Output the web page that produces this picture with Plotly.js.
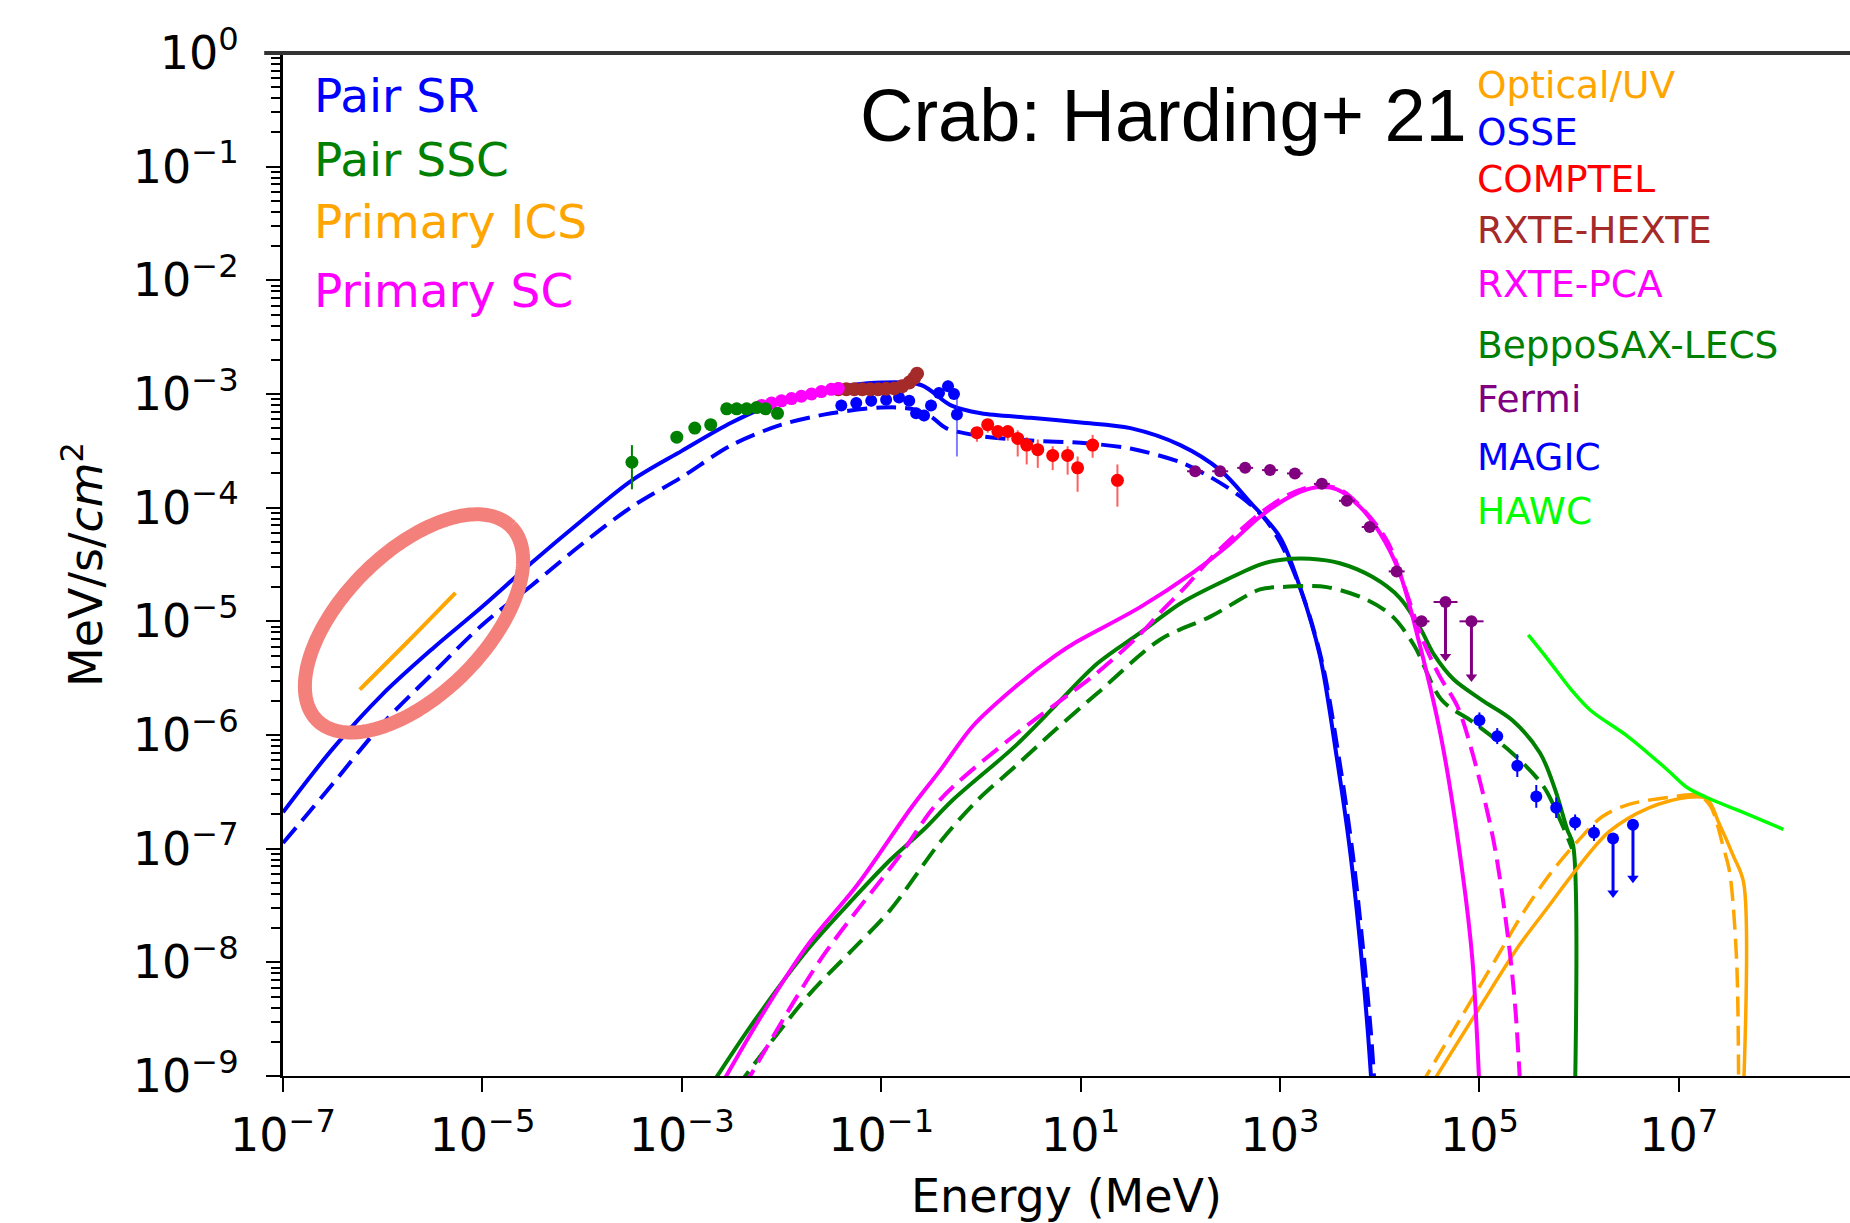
<!DOCTYPE html>
<html>
<head>
<meta charset="utf-8">
<script src="https://cdn.plot.ly/plotly-3.0.1.min.js"></script>
<style>
  html, body { margin: 0; padding: 0; background: #ffffff; }
  #chart { width: 1850px; height: 1223px; }
</style>
</head>
<body>
<div id="chart"></div>
<script>
// Crab pulsar spectral energy distribution: energy in MeV, flux in MeV/s/cm^2.

// ---- Model curves ----
// Pair synchro-radiation (solid and dashed)
const pairSrSolidE = [1e-7, 3.16e-7, 1e-6, 3.16e-6, 1e-5, 3.16e-5, 1e-4, 3.16e-4, 1e-3, 3.16e-3, 1e-2, 3.16e-2, 0.1, 0.251, 0.501, 1, 3.16, 10, 31.6, 100, 251, 501, 1000, 1585, 2512, 3715, 5012, 6310, 7586, 8318];
const pairSrSolidF = [2.09e-7, 7.59e-7, 2.29e-6, 5.75e-6, 1.35e-5, 3.31e-5, 7.76e-5, 1.74e-4, 3.16e-4, 5.62e-4, 8.71e-4, 1.12e-3, 1.26e-3, 1.20e-3, 7.94e-4, 6.76e-4, 6.17e-4, 5.62e-4, 5.01e-4, 3.55e-4, 2.14e-4, 1.12e-4, 5.50e-5, 2.00e-5, 5.01e-6, 6.31e-7, 1.0e-7, 1.58e-8, 2.51e-9, 7.94e-10];
const pairSrDashedE = [1e-7, 1.78e-7, 3.16e-7, 1e-6, 3.16e-6, 1e-5, 3.16e-5, 1e-4, 3.16e-4, 1e-3, 3.16e-3, 1e-2, 3.16e-2, 0.1, 0.2, 0.316, 0.447, 1, 3.16, 10, 31.6, 100, 200, 398, 676, 1000, 1660, 2630, 3980, 5370, 6760, 8130, 8910];
const pairSrDashedF = [1.12e-7, 2.04e-7, 3.72e-7, 1.26e-6, 3.47e-6, 9.33e-6, 2.09e-5, 4.79e-5, 1.02e-4, 1.86e-4, 3.55e-4, 5.37e-4, 6.76e-4, 7.59e-4, 7.41e-4, 6.31e-4, 5.01e-4, 4.27e-4, 3.89e-4, 3.72e-4, 3.31e-4, 2.51e-4, 1.86e-4, 1.26e-4, 8.32e-5, 5.01e-5, 1.78e-5, 4.47e-6, 5.62e-7, 8.91e-8, 1.41e-8, 2.51e-9, 7.94e-10];

// Pair synchro-self-Compton
const pairSscSolidE = [1.91e-3, 5.01e-3, 1.82e-2, 5.01e-2, 0.123, 0.269, 0.525, 2.19, 5.62, 14.8, 39.8, 102, 295, 631, 1000, 2000, 3980, 8510, 1.58e4, 2.51e4, 3.55e4, 5.50e4, 1.05e5, 2.14e5, 4.07e5, 5.75e5, 7.59e5, 8.71e5, 9.12e5];
const pairSscSolidF = [7.94e-10, 2.82e-9, 1.29e-8, 3.47e-8, 7.94e-8, 1.48e-7, 2.69e-7, 7.94e-7, 1.82e-6, 4.27e-6, 7.94e-6, 1.45e-5, 2.34e-5, 3.16e-5, 3.47e-5, 3.55e-5, 3.24e-5, 2.45e-5, 1.62e-5, 8.91e-6, 5.01e-6, 3.09e-6, 2.04e-6, 1.35e-6, 6.92e-7, 3.31e-7, 1.48e-7, 1.07e-7, 7.94e-10];
const pairSscDashedE = [3.55e-3, 1.82e-2, 5.01e-2, 0.123, 0.398, 0.933, 2.19, 5.62, 14.8, 63.1, 200, 631, 1000, 2950, 7410, 1.35e4, 2.24e4, 4.17e4, 8.71e4, 2.14e5, 4.37e5, 6.92e5, 8.51e5];
const pairSscDashedF = [7.94e-10, 5.01e-9, 1.26e-8, 2.88e-8, 1.17e-7, 2.69e-7, 5.25e-7, 1.12e-6, 2.34e-6, 6.92e-6, 1.10e-5, 1.91e-5, 2.00e-5, 2.00e-5, 1.55e-5, 1.10e-5, 6.03e-6, 2.04e-6, 1.29e-6, 6.92e-7, 3.55e-7, 1.55e-7, 1.00e-7];

// Primary inverse-Compton scattering
const primIcsSolidE = [3.16e4, 1.00e5, 2.51e5, 5.01e5, 8.71e5, 2.00e6, 5.01e6, 1.20e7, 1.91e7, 2.51e7, 3.55e7, 4.47e7, 4.47e7];
const primIcsSolidF = [7.94e-10, 3.98e-9, 1.41e-8, 3.16e-8, 6.03e-8, 1.41e-7, 2.29e-7, 2.82e-7, 2.75e-7, 1.70e-7, 8.51e-8, 5.01e-8, 7.94e-10];
const primIcsDashedE = [2.51e4, 6.31e4, 1.51e5, 2.82e5, 5.25e5, 1.00e6, 1.70e6, 3.16e6, 7.76e6, 1.58e7, 2.09e7, 2.82e7, 3.24e7, 3.80e7, 3.98e7];
const primIcsDashedF = [7.94e-10, 3.09e-9, 1.12e-8, 2.82e-8, 6.17e-8, 1.20e-7, 1.91e-7, 2.45e-7, 2.82e-7, 2.95e-7, 2.34e-7, 1.00e-7, 6.17e-8, 1.05e-8, 7.94e-10];

// Primary synchro-curvature
const primScSolidE = [2.40e-3, 6.31e-3, 1.82e-2, 5.75e-2, 0.200, 0.398, 0.832, 2.19, 5.62, 9.12, 38.9, 135, 295, 631, 1350, 2340, 3720, 6310, 1.00e4, 1.58e4, 2.51e4, 4.17e4, 6.76e4, 8.51e4, 1.00e5];
const primScSolidF = [7.94e-10, 3.39e-9, 1.41e-8, 4.79e-8, 2.29e-7, 5.01e-7, 1.20e-6, 2.63e-6, 5.01e-6, 6.61e-6, 1.32e-5, 2.69e-5, 4.57e-5, 8.32e-5, 1.29e-4, 1.51e-4, 1.45e-4, 1.02e-4, 6.03e-5, 2.69e-5, 6.31e-6, 9.12e-7, 6.17e-8, 1.05e-8, 7.94e-10];
const primScDashedE = [4.17e-3, 2.45e-2, 0.151, 0.389, 2.19, 14.8, 38.9, 63.1, 112, 200, 316, 631, 1260, 2240, 3980, 7080, 1.20e4, 1.78e4, 2.69e4, 3.98e4, 6.03e4, 8.71e4, 1.38e5, 1.95e5, 2.29e5, 2.57e5];
const primScDashedF = [7.94e-10, 1.05e-8, 8.51e-8, 2.69e-7, 1.00e-6, 3.55e-6, 7.59e-6, 1.20e-5, 2.00e-5, 3.55e-5, 5.25e-5, 8.91e-5, 1.32e-4, 1.55e-4, 1.45e-4, 9.33e-5, 5.01e-5, 2.00e-5, 6.92e-6, 3.31e-6, 1.78e-6, 6.46e-7, 1.20e-7, 1.58e-8, 3.98e-9, 7.94e-10];

// ---- Observations ----
const opticalE = [5.89e-7, 1.78e-6, 5.37e-6];
const opticalF = [2.51e-6, 6.61e-6, 1.78e-5];

const osseE = [3.98e-2, 5.62e-2, 7.94e-2, 0.112, 0.151, 0.191, 0.224, 0.269, 0.316, 0.380, 0.468, 0.537, 0.575];
const osseF = [7.94e-4, 8.32e-4, 8.71e-4, 8.91e-4, 9.33e-4, 8.71e-4, 6.76e-4, 6.46e-4, 7.94e-4, 1.02e-3, 1.17e-3, 1.00e-3, 6.61e-4];
const osseLo = [7.08e-4, 7.41e-4, 7.76e-4, 7.94e-4, 8.32e-4, 7.76e-4, 6.03e-4, 5.75e-4, 7.08e-4, 9.12e-4, 1.05e-3, 8.91e-4, 2.82e-4];
const osseHi = [8.91e-4, 9.33e-4, 9.77e-4, 1.00e-3, 1.05e-3, 9.77e-4, 7.59e-4, 7.24e-4, 8.91e-4, 1.15e-3, 1.32e-3, 1.12e-3, 9.33e-4];

const comptelE = [0.912, 1.17, 1.48, 1.86, 2.34, 2.88, 3.72, 5.25, 7.41, 9.33, 13.2, 23.4];
const comptelF = [4.57e-4, 5.37e-4, 4.68e-4, 4.68e-4, 4.07e-4, 3.55e-4, 3.24e-4, 2.88e-4, 2.88e-4, 2.24e-4, 3.55e-4, 1.74e-4];
const comptelLo = [3.80e-4, 4.57e-4, 3.98e-4, 3.89e-4, 2.82e-4, 2.40e-4, 2.24e-4, 2.14e-4, 1.95e-4, 1.38e-4, 2.75e-4, 1.02e-4];
const comptelHi = [5.01e-4, 5.89e-4, 5.13e-4, 5.13e-4, 4.79e-4, 4.17e-4, 3.98e-4, 3.47e-4, 3.47e-4, 2.82e-4, 4.37e-4, 2.40e-4];

const hexteE = [3.72e-2, 4.47e-2, 5.37e-2, 6.46e-2, 7.76e-2, 9.33e-2, 0.112, 0.135, 0.162, 0.191, 0.214, 0.229];
const hexteF = [1.10e-3, 1.10e-3, 1.10e-3, 1.10e-3, 1.10e-3, 1.10e-3, 1.11e-3, 1.12e-3, 1.17e-3, 1.26e-3, 1.38e-3, 1.51e-3];

const pcaE = [6.31e-3, 7.94e-3, 1.00e-2, 1.26e-2, 1.58e-2, 2.00e-2, 2.51e-2, 3.16e-2, 3.72e-2];
const pcaF = [7.94e-4, 8.32e-4, 8.71e-4, 9.12e-4, 9.55e-4, 1.00e-3, 1.05e-3, 1.10e-3, 1.12e-3];

const lecsE = [3.16e-4, 8.91e-4, 1.35e-3, 1.95e-3, 2.82e-3, 3.55e-3, 4.47e-3, 5.62e-3, 6.92e-3, 9.12e-3];
const lecsF = [2.51e-4, 4.17e-4, 5.01e-4, 5.37e-4, 7.41e-4, 7.41e-4, 7.41e-4, 7.59e-4, 7.41e-4, 6.76e-4];
const lecsLo = [1.45e-4, 3.89e-4, 4.68e-4, 5.01e-4, 7.08e-4, 7.08e-4, 7.08e-4, 7.24e-4, 7.08e-4, 6.31e-4];
const lecsHi = [3.55e-4, 4.47e-4, 5.37e-4, 5.75e-4, 7.76e-4, 7.76e-4, 7.76e-4, 7.94e-4, 7.76e-4, 7.24e-4];

const fermiE = [141, 251, 447, 794, 1410, 2630, 4680, 7940, 1.48e4, 2.63e4];
const fermiF = [2.09e-4, 2.09e-4, 2.24e-4, 2.14e-4, 2.00e-4, 1.62e-4, 1.15e-4, 6.76e-5, 2.75e-5, 1.00e-5];
const fermiElo = [117, 209, 372, 661, 1175, 2190, 3900, 6610, 1.23e4, 2.19e4];
const fermiEhi = [169, 302, 537, 953, 1690, 3160, 5620, 9530, 1.78e4, 3.16e4];
const fermiUlE = [4.57e4, 8.32e4];
const fermiUlF = [1.48e-5, 1.00e-5];
const fermiUlTip = [4.90e-6, 3.24e-6];
const fermiUlElo = [3.47e4, 6.31e4];
const fermiUlEhi = [6.03e4, 1.10e5];

const magicE = [1.00e5, 1.51e5, 2.40e5, 3.72e5, 5.89e5, 9.12e5, 1.41e6];
const magicF = [1.35e-6, 9.77e-7, 5.37e-7, 2.88e-7, 2.29e-7, 1.70e-7, 1.38e-7];
const magicLo = [1.15e-6, 8.32e-7, 4.27e-7, 2.29e-7, 1.86e-7, 1.45e-7, 1.17e-7];
const magicHi = [1.58e-6, 1.15e-6, 6.76e-7, 3.63e-7, 2.82e-7, 2.00e-7, 1.62e-7];
const magicUlE = [2.19e6, 3.47e6];
const magicUlF = [1.23e-7, 1.62e-7];
const magicUlTip = [4.07e-8, 5.50e-8];

const hawcE = [3.09e5, 5.01e5, 8.32e5, 1.29e6, 3.16e6, 7.76e6, 1.20e7, 1.91e7, 4.68e7, 1.12e8];
const hawcF = [7.59e-6, 4.47e-6, 2.51e-6, 1.66e-6, 9.55e-7, 4.90e-7, 3.47e-7, 2.82e-7, 2.04e-7, 1.48e-7];

// ---- Axis ticks ----
const xTickVals = [1e-7, 1e-5, 1e-3, 1e-1, 1e1, 1e3, 1e5, 1e7];
const xTickText = ['10<sup>\u22127</sup>', '10<sup>\u22125</sup>', '10<sup>\u22123</sup>', '10<sup>\u22121</sup>', '10<sup>1</sup>', '10<sup>3</sup>', '10<sup>5</sup>', '10<sup>7</sup>'];
const yTickVals = [1e0, 1e-1, 1e-2, 1e-3, 1e-4, 1e-5, 1e-6, 1e-7, 1e-8, 1e-9];
const yTickText = ['10<sup>0</sup>', '10<sup>\u22121</sup>', '10<sup>\u22122</sup>', '10<sup>\u22123</sup>', '10<sup>\u22124</sup>', '10<sup>\u22125</sup>', '10<sup>\u22126</sup>', '10<sup>\u22127</sup>', '10<sup>\u22128</sup>', '10<sup>\u22129</sup>'];

// ---- Labels ----
const modelLabels = ['Pair SR', 'Pair SSC', 'Primary ICS', 'Primary SC'];
const modelColors = ['#0000ff', '#008000', '#ffa500', '#ff00ff'];
const dataLabels = ['Optical/UV', 'OSSE', 'COMPTEL', 'RXTE-HEXTE', 'RXTE-PCA', 'BeppoSAX-LECS', 'Fermi', 'MAGIC', 'HAWC'];
const dataColors = ['#ffa500', '#0000ff', '#ff0000', '#a52a2a', '#ff00ff', '#008000', '#800080', '#0000ff', '#00ff00'];

// Highlight ring around the optical/UV segment (centre in data units, semi-axes in decades)
const ringCenterE = 2.06e-6;
const ringCenterF = 9.59e-6;
const ringMajor = [0.972, 0.852];
const ringMinor = [0.503, -0.442];

// ---- Page geometry ----
const W = 1850, H = 1223;
const M = { l: 283, r: 0, t: 53, b: 147 };
const plotW = W - M.l - M.r, plotH = H - M.t - M.b;
const px2x = px => (px - M.l) / plotW;
const py2y = py => (H - M.b - py) / plotH;

const FONT = 'DejaVu Sans, Verdana, sans-serif';
const DASH = '20px,9px';

function curve(E, F, color, dash, width) {
  return { x: E, y: F, type: 'scatter', mode: 'lines',
           line: { color: color, width: width || 4, dash: dash || 'solid', shape: 'spline', smoothing: 0.9, simplify: false },
           hoverinfo: 'skip', showlegend: false };
}
function yErr(F, lo, hi, color, thick) {
  return { type: 'data', symmetric: false,
           array: F.map((v, i) => hi[i] - v), arrayminus: F.map((v, i) => v - lo[i]),
           color: color, thickness: thick || 2, width: 0 };
}
function points(E, F, color, size, extra) {
  return Object.assign({ x: E, y: F, type: 'scatter', mode: 'markers',
           marker: { color: color, size: size, line: { width: 0 } },
           hoverinfo: 'skip', showlegend: false }, extra || {});
}

const traces = [
  curve(pairSrSolidE, pairSrSolidF, '#0000ff'),
  curve(pairSrDashedE, pairSrDashedF, '#0000ff', DASH),
  curve(pairSscSolidE, pairSscSolidF, '#008000'),
  curve(pairSscDashedE, pairSscDashedF, '#008000', DASH),
  curve(primIcsSolidE, primIcsSolidF, '#ffa500', null, 3.5),
  curve(primIcsDashedE, primIcsDashedF, '#ffa500', DASH, 3.5),
  curve(primScSolidE, primScSolidF, '#ff00ff'),
  curve(primScDashedE, primScDashedF, '#ff00ff', DASH),
  curve(hawcE, hawcF, '#00ff00', null, 3.5),
  curve(opticalE, opticalF, '#ffa500', null, 4),
  points(osseE, osseF, '#0000ff', 12, { error_y: yErr(osseF, osseLo, osseHi, 'rgba(40,40,255,0.6)', 2) }),
  points(comptelE, comptelF, '#ff0000', 13, { error_y: yErr(comptelF, comptelLo, comptelHi, 'rgba(255,40,40,0.75)', 2) }),
  points(hexteE, hexteF, '#a52a2a', 14),
  points(pcaE, pcaF, '#ff00ff', 13),
  points(lecsE, lecsF, '#008000', 13, { error_y: yErr(lecsF, lecsLo, lecsHi, '#008000', 2) }),
  points(fermiE, fermiF, '#800080', 12, {
    error_x: { type: 'data', symmetric: false,
               array: fermiE.map((v, i) => fermiEhi[i] - v), arrayminus: fermiE.map((v, i) => v - fermiElo[i]),
               color: '#800080', thickness: 2, width: 0 } }),
  points(fermiUlE, fermiUlF, '#800080', 12, {
    error_y: yErr(fermiUlF, fermiUlTip, fermiUlF, '#800080', 3),
    error_x: { type: 'data', symmetric: false,
               array: fermiUlE.map((v, i) => fermiUlEhi[i] - v), arrayminus: fermiUlE.map((v, i) => v - fermiUlElo[i]),
               color: '#800080', thickness: 2, width: 0 } }),
  points(fermiUlE, fermiUlTip, '#800080', 10, { marker: { color: '#800080', size: 10, symbol: 'triangle-down' } }),
  points(magicE, magicF, '#0000ff', 12, { error_y: yErr(magicF, magicLo, magicHi, '#0000ff', 2) }),
  points(magicUlE, magicUlF, '#0000ff', 12, { error_y: yErr(magicUlF, magicUlTip, magicUlF, '#0000ff', 3) }),
  points(magicUlE, magicUlTip, '#0000ff', 10, { marker: { color: '#0000ff', size: 10, symbol: 'triangle-down' } })
];

// highlight ring
const ringE = [], ringF = [];
for (let k = 0; k <= 240; k++) {
  const t = 2 * Math.PI * k / 240;
  const lx = Math.log10(ringCenterE) + ringMajor[0] * Math.cos(t) + ringMinor[0] * Math.sin(t);
  const ly = Math.log10(ringCenterF) + ringMajor[1] * Math.cos(t) + ringMinor[1] * Math.sin(t);
  ringE.push(Math.pow(10, lx));
  ringF.push(Math.pow(10, ly));
}
traces.push({ x: ringE, y: ringF, type: 'scatter', mode: 'lines',
              line: { color: '#f4807b', width: 14, simplify: false }, hoverinfo: 'skip', showlegend: false });

// minor ticks on the flux axis
const yMinor = [];
for (let d = -9; d < 0; d++) for (let m = 2; m <= 9; m++) yMinor.push(m * Math.pow(10, d));

const annotations = [];
const modelRows = [96, 159, 222, 290];
modelLabels.forEach((t, i) => annotations.push({
  text: t, xref: 'paper', yref: 'paper', x: px2x(312), y: py2y(modelRows[i]),
  xanchor: 'left', yanchor: 'middle', showarrow: false,
  font: { family: FONT, size: 47, color: modelColors[i] } }));
const dataRows = [85, 132, 179, 230, 284, 345, 399, 457, 511];
dataLabels.forEach((t, i) => annotations.push({
  text: t, xref: 'paper', yref: 'paper', x: px2x(1475), y: py2y(dataRows[i]),
  xanchor: 'left', yanchor: 'middle', showarrow: false,
  font: { family: FONT, size: 37.5, color: dataColors[i] } }));
annotations.push({
  text: 'Crab: Harding+ 21', xref: 'paper', yref: 'paper', x: px2x(858), y: py2y(116),
  xanchor: 'left', yanchor: 'middle', showarrow: false,
  font: { family: 'Liberation Sans, Arial, Helvetica, sans-serif', size: 74, color: '#000000' } });

const layout = {
  width: W, height: H,
  margin: M,
  paper_bgcolor: '#ffffff', plot_bgcolor: '#ffffff',
  showlegend: false,
  xaxis: {
    type: 'log', range: [-7, -7 + plotW / 99.7],
    tickmode: 'array', tickvals: xTickVals, ticktext: xTickText,
    ticks: 'outside', ticklen: 14, tickwidth: 2, tickcolor: '#000',
    showline: true, linecolor: '#000', linewidth: 2,
    showgrid: false, zeroline: false,
    tickfont: { family: FONT, size: 46, color: '#000' },
    ticklabelstandoff: 4,
    title: { text: 'Energy (MeV)', font: { family: FONT, size: 46, color: '#000' }, standoff: 26 }
  },
  yaxis: {
    type: 'log', range: [-9, 0],
    tickmode: 'array', tickvals: yTickVals, ticktext: yTickText,
    ticks: 'outside', ticklen: 14, tickwidth: 2, tickcolor: '#000',
    minor: { tickmode: 'array', tickvals: yMinor, ticks: 'outside', ticklen: 9, tickwidth: 2, tickcolor: '#000' },
    showline: true, linecolor: '#000', linewidth: 3,
    showgrid: false, zeroline: false,
    tickfont: { family: FONT, size: 46, color: '#000' },
    ticklabelstandoff: 18,
    title: { text: 'MeV/s/<i>cm</i><sup>2</sup>', font: { family: FONT, size: 46, color: '#000' }, standoff: 16 }
  },
  shapes: [{ type: 'line', xref: 'paper', yref: 'paper', x0: -0.012, x1: 1, y0: 1, y1: 1,
             line: { color: '#333333', width: 4 } }],
  annotations: annotations
};

Plotly.newPlot('chart', traces, layout, { displayModeBar: false, staticPlot: true });
</script>
</body>
</html>
